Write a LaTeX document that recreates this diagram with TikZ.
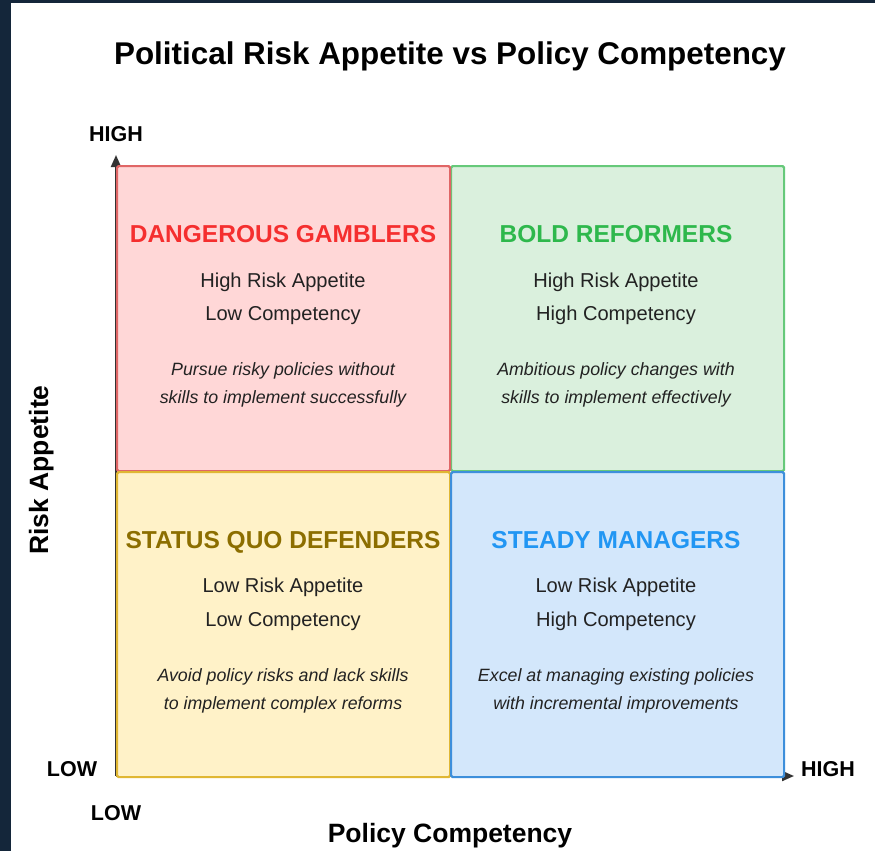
\documentclass[tikz,border=0pt]{standalone}
\usepackage{fontspec}
\setmainfont{Liberation Sans}
\usetikzlibrary{arrows.meta}
\definecolor{frameblue}{HTML}{14263A}
\definecolor{redfill}{HTML}{FFD7D7}
\definecolor{redline}{HTML}{E06666}
\definecolor{redtext}{HTML}{F52F2F}
\definecolor{greenfill}{HTML}{DAF0DD}
\definecolor{greenline}{HTML}{66C97A}
\definecolor{greentext}{HTML}{2EB84C}
\definecolor{yellowfill}{HTML}{FFF2C8}
\definecolor{yellowline}{HTML}{E0B733}
\definecolor{yellowtext}{HTML}{8C6E00}
\definecolor{bluefill}{HTML}{D3E7FB}
\definecolor{blueline}{HTML}{3D8FDB}
\definecolor{bluetext}{HTML}{2196F3}
\definecolor{bodytext}{HTML}{222222}
\definecolor{axisgray}{HTML}{333333}
\tikzset{
  quad/.style={draw, line width=2.2pt, rounded corners=1.5pt, minimum width=333pt, minimum height=305pt, inner sep=0pt, anchor=north west},
  qtitle/.style={font=\fontsize{24.5}{28}\selectfont\bfseries, inner sep=0pt, anchor=base},
  qbody/.style={font=\fontsize{20.1}{24}\selectfont, text=bodytext, inner sep=0pt, anchor=base},
  qnote/.style={font=\fontsize{17.8}{21}\selectfont\itshape, text=bodytext, inner sep=0pt, anchor=base},
  ticklbl/.style={font=\fontsize{21.5}{24}\selectfont\bfseries, inner sep=0pt, anchor=base},
  axislbl/.style={font=\fontsize{26.5}{30}\selectfont\bfseries, inner sep=0pt, anchor=base},
  axisline/.style={draw=axisgray, line width=2pt, -{Triangle[length=12pt,width=10pt]}}
}
\begin{document}
\begin{tikzpicture}[x=1pt,y=-1pt]
\useasboundingbox (0,0) rectangle (875,851);
\fill[frameblue] (0,0) rectangle (875,851);
\fill[white] (11,3) rectangle (875,851);
% title
\node[font=\fontsize{31.4}{36}\selectfont\bfseries, inner sep=0pt, anchor=base] (title) at (450,64) {Political Risk Appetite vs Policy Competency};
% axes
\coordinate (origin) at (116,776);
\coordinate (ytop) at (116,155);
\coordinate (xend) at (794,776);
\draw[axisline] (origin) -- (ytop);
\draw[axisline] (origin) -- (xend);
% quadrants (drawing order sets which border lies on top)
\node[quad, fill=greenfill, draw=greenline] (q2) at (450,165) {};
\node[quad, fill=redfill, draw=redline] (q1) at (116,165) {};
\node[quad, fill=yellowfill, draw=yellowline] (q3) at (116,471) {};
\node[quad, fill=bluefill, draw=blueline] (q4) at (450,471) {};
% quadrant 1
\node[qtitle, text=redtext] (t1) at (283,242.5) {DANGEROUS GAMBLERS};
\node[qbody] (b1a) at (283,287) {High Risk Appetite};
\node[qbody] (b1b) at (283,320) {Low Competency};
\node[qnote] (n1a) at (283,375) {Pursue risky policies without};
\node[qnote] (n1b) at (283,403) {skills to implement successfully};
% quadrant 2
\node[qtitle, text=greentext] (t2) at (616,242.5) {BOLD REFORMERS};
\node[qbody] (b2a) at (616,287) {High Risk Appetite};
\node[qbody] (b2b) at (616,320) {High Competency};
\node[qnote] (n2a) at (616,375) {Ambitious policy changes with};
\node[qnote] (n2b) at (616,403) {skills to implement effectively};
% quadrant 3
\node[qtitle, text=yellowtext] (t3) at (283,548.5) {STATUS QUO DEFENDERS};
\node[qbody] (b3a) at (283,592) {Low Risk Appetite};
\node[qbody] (b3b) at (283,626) {Low Competency};
\node[qnote] (n3a) at (283,681) {Avoid policy risks and lack skills};
\node[qnote] (n3b) at (283,709) {to implement complex reforms};
% quadrant 4
\node[qtitle, text=bluetext] (t4) at (616,548.5) {STEADY MANAGERS};
\node[qbody] (b4a) at (616,592) {Low Risk Appetite};
\node[qbody] (b4b) at (616,626) {High Competency};
\node[qnote] (n4a) at (616,681) {Excel at managing existing policies};
\node[qnote] (n4b) at (616,709) {with incremental improvements};
% tick labels
\node[ticklbl] (yhigh) at (116,141) {HIGH};
\node[ticklbl] (ylow) at (72,776) {LOW};
\node[ticklbl] (xlow) at (116,820) {LOW};
\node[ticklbl] (xhigh) at (828,776) {HIGH};
% axis labels
\node[axislbl, rotate=90] (ylabel) at (48,470) {Risk Appetite};
\node[axislbl] (xlabel) at (450,842) {Policy Competency};
\end{tikzpicture}
\end{document}
